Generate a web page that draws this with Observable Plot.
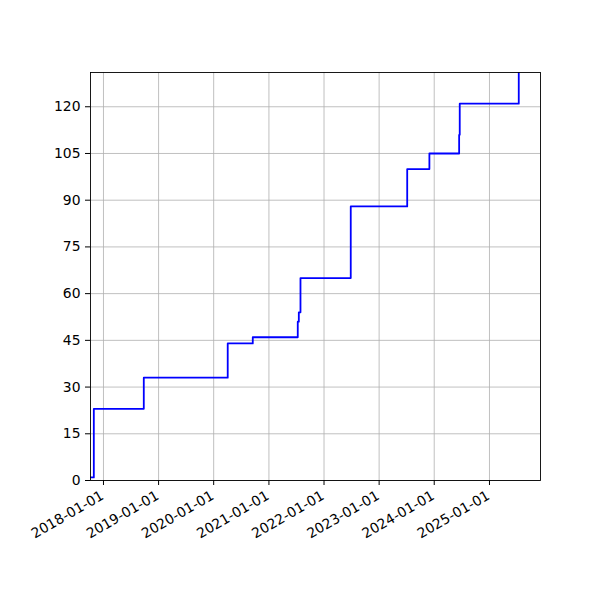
<!DOCTYPE html>
<html>
<head>
<meta charset="utf-8">
<script src="https://cdn.jsdelivr.net/npm/d3@7"></script>
<script src="https://cdn.jsdelivr.net/npm/@observablehq/plot@0.6"></script>
<style>
  html, body { margin: 0; padding: 0; background: #fff; }
  #chart svg { display: block; }
</style>
</head>
<body>
<div id="chart"></div>
<script>
const dates = [
  "2017-10-07", "2017-10-29", "2018-09-25", "2020-04-03", "2020-09-16",
  "2021-07-11", "2021-07-18", "2021-07-29", "2022-06-27", "2023-07-06",
  "2023-11-30", "2024-06-14", "2024-06-18", "2025-07-14"
];
const counts = [1, 23, 33, 44, 46, 51, 54, 65, 88, 100, 105, 111, 121, 131];
const xTickLabels = ["2018-01-01", "2019-01-01", "2020-01-01", "2021-01-01",
  "2022-01-01", "2023-01-01", "2024-01-01", "2025-01-01"];
const yTicks = [0, 15, 30, 45, 60, 75, 90, 105, 120];

const parse = d3.utcParse("%Y-%m-%d");
const data = dates.map((d, i) => ({date: parse(d), count: counts[i]}));
const xTicks = xTickLabels.map(parse);

const chart = Plot.plot({
  width: 600,
  height: 600,
  marginLeft: 90,
  marginRight: 60,
  marginTop: 72,
  marginBottom: 120,
  style: {fontFamily: "DejaVu Sans", fontSize: "13.9px", color: "black", background: "white"},
  x: {type: "utc", domain: [parse("2017-10-07"), parse("2025-12-05")]},
  y: {domain: [0, 131]},
  marks: [
    Plot.gridX(xTicks, {stroke: "#b0b0b0", strokeOpacity: 1, strokeWidth: 0.8}),
    Plot.gridY(yTicks, {stroke: "#b0b0b0", strokeOpacity: 1, strokeWidth: 0.8}),
    Plot.line(data, {x: "date", y: "count", curve: "step-after", stroke: "blue", strokeWidth: 1.8, clip: true}),
    Plot.frame({stroke: "black", strokeWidth: 0.9}),
    Plot.axisX({ticks: xTicks, tickFormat: () => "", tickSize: 5, label: null}),
    Plot.axisX({ticks: xTicks, tickFormat: d3.utcFormat("%Y-%m-%d"), tickRotate: -30, tickSize: 0, tickPadding: 9, dy: 5, dx: -1, label: null, fontSize: 13.9}),
    Plot.axisY({ticks: yTicks, tickSize: 5, tickPadding: 5, label: null, fontSize: 13.9})
  ]
});
document.getElementById("chart").appendChild(chart);
</script>
</body>
</html>
